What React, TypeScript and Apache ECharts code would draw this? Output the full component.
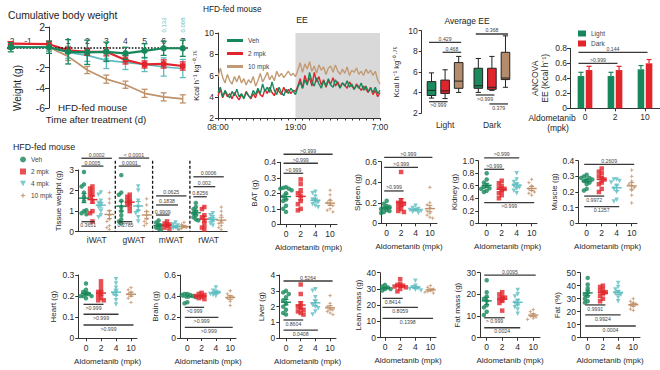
import React, { useEffect, useRef } from 'react';
import * as echarts from 'echarts';

const FONT = '"Liberation Sans", Arial, Helvetica, sans-serif';
const INK = '#333333';
const COLORS = ['#16875a', '#e1252b', '#5dbdc0', '#bf9169'];
const EE_COLORS = ['#16875a', '#e1252b', '#c29b74'];
const BOX_COLORS = ['#1b8a5d', '#e0262c', '#b48b6b'];
const SYMBOLS = [
  'circle',
  'rect',
  'path://M0,0L10,0L5,9Z',
  'path://M5,0L6.4,3.6L10,5L6.4,6.4L5,10L3.6,6.4L0,5L3.6,3.6Z',
];

// ---------------- data ----------------
const groupNames = ['Veh', '2 mpk', '4 mpk', '10 mpk'];
const doseLabels = ['0', '2', '4', '10'];

// Cumulative body weight (g)
const bwDays = [-2, 0, 1, 2, 3, 4, 5, 6, 7];
const bwVeh = [0.0, 0.0, -0.45, -0.5, -0.45, -0.6, -0.35, -0.1, -0.1];
const bwVehErr = [0.45, 0.6, 1.2, 1.2, 0.95, 0.6, 0.7, 0.7, 0.8];
const bw2 = [0.35, 0.3, -0.3, -0.45, -0.45, -1.25, -1.7, -1.65, -1.85];
const bw2Err = [0.2, 0.3, 0.3, 0.35, 0.4, 0.4, 0.35, 0.4, 0.4];
const bw4 = [0.1, 0.0, -0.5, -0.8, -1.3, -1.5, -1.7, -1.95, -2.1];
const bw4Err = [0.2, 0.4, 0.6, 0.6, 0.8, 0.7, 0.7, 0.9, 0.9];
const bw10 = [0.0, 0.0, -0.9, -2.25, -3.15, -3.7, -4.55, -4.9, -5.1];
const bw10Err = [0.2, 0.3, 0.4, 0.35, 0.4, 0.35, 0.4, 0.4, 0.4];
const dayLabels = ['-2', '-1', '1', '2', '3', '4', '5', '6', '7'];
const dayLabelDays = [-2, -1.1, 1, 2, 3, 4, 5, 6, 7];
const bwPDays = [6, 7];
const bwPTexts = ['0.132', '0.008'];

// EE time course (Kcal h-1 kg-0.75), every 20 min from 08:00 to 07:00
const eeVeh = [
  4.4, 4.9, 4.0, 4.6, 4.2, 3.9, 4.5, 4.1, 4.7, 4.0, 4.3, 3.8, 4.4, 4.1, 3.9, 4.6, 4.2, 4.8, 4.3, 5.2, 4.5, 4.9, 4.4, 5.4, 4.6, 4.2, 4.9, 4.4, 4.1, 4.7, 4.3, 4.8, 4.5, 4.2,
  4.9, 5.4, 4.8, 5.6, 5.1, 6.3, 5.4, 5.0, 5.8, 5.2, 4.8, 5.5, 5.0, 5.7, 5.1, 4.9, 5.6, 5.2, 4.8, 5.3, 5.0, 5.5, 4.9, 5.2, 4.7, 5.1, 4.8, 5.3, 4.6, 5.0, 4.5, 4.8, 4.4, 4.9, 4.3, 4.6,
];
const ee2 = [
  4.1, 4.7, 3.9, 4.5, 4.0, 4.3, 3.8, 4.4, 4.0, 3.7, 4.2, 3.9, 4.5, 4.1, 3.8, 4.3, 3.9, 4.6, 4.2, 4.0, 4.7, 4.3, 4.9, 4.4, 4.1, 4.8, 4.5, 4.2, 4.9, 4.4, 4.7, 4.3, 4.6, 4.5,
  5.0, 5.7, 4.8, 6.0, 5.3, 5.8, 5.0, 6.3, 5.4, 5.9, 5.1, 5.6, 4.9, 5.5, 5.2, 5.8, 5.0, 5.4, 4.9, 5.3, 5.1, 4.8, 5.4, 5.0, 4.7, 5.2, 4.9, 4.6, 5.0, 4.7, 4.4, 4.9, 4.2, 4.6, 4.0, 4.4,
];
const ee10 = [
  5.9, 6.7, 5.8, 5.3, 6.1, 5.5, 5.2, 5.9, 5.4, 6.0, 5.3, 5.7, 5.1, 5.6, 5.3, 5.9, 5.0, 5.5, 6.2, 5.4, 5.8, 6.3, 5.6, 6.0, 5.5, 6.4, 5.9, 6.2, 5.8, 6.1, 6.4, 6.0, 6.2, 5.9,
  6.5, 7.2, 6.3, 7.1, 6.6, 7.3, 6.4, 6.9, 6.2, 7.0, 6.5, 6.8, 6.1, 6.7, 6.9, 6.3, 7.0, 6.4, 6.1, 6.6, 6.2, 6.8, 6.0, 6.5, 6.3, 6.7, 6.1, 6.4, 6.0, 6.6, 6.2, 6.5, 6.0, 6.4, 5.6, 5.2,
];
const eeTickHours = [0, 11, 23];
const eeTickLabels = ['08:00', '19:00', '7:00'];
const eeDarkStart = 11;
const eeDarkEnd = 23;

// Average EE boxes: [min, Q1, median, Q3, max] for Light, Dark
const phaseLabels = ['Light', 'Dark'];
const eeBoxVeh = [[3.45, 3.7, 4.2, 5.05, 5.9], [4.0, 4.4, 4.65, 6.35, 7.3]];
const eeBox2 = [[3.4, 3.9, 4.15, 5.2, 6.2], [4.2, 4.3, 4.5, 6.35, 7.5]];
const eeBox10 = [[4.0, 4.4, 5.1, 6.9, 7.5], [4.5, 5.25, 5.4, 7.9, 9.5]];
// [phase, group1, group2, y, text, above/below]
const avgEeSig: [number, number, number, number, string, string][] = [
  [0, 0, 2, 8.87, '0.429', 'a'],
  [0, 1, 2, 7.9, '0.468', 'a'],
  [0, 0, 1, 3.1, '>0.999', 'b'],
  [1, 0, 2, 9.68, '0.368', 'a'],
  [1, 0, 1, 3.75, '>0.999', 'b'],
  [1, 1, 2, 2.88, '0.379', 'b'],
];

// ANCOVA EE
const ancovaDoses = ['0', '2', '10'];
const ancovaLight = [0.43, 0.43, 0.52];
const ancovaLightErr = [0.05, 0.05, 0.05];
const ancovaDark = [0.51, 0.51, 0.6];
const ancovaDarkErr = [0.05, 0.05, 0.05];
const ancovaSig: [number, number, number, string, string][] = [
  [0, 2, 0.747, '0.144', 'a'],
  [0, 1, 0.6, '>0.999', 'a'],
];

// Tissue weight (g): [iWAT, gWAT, mWAT, rWAT] x [Veh, 2, 4, 10 mpk]
const tissueNames = ['iWAT', 'gWAT', 'mWAT', 'rWAT'];
const iwat = [
  [2.9, 2.3, 2.2, 1.9, 1.7, 1.5, 1.0, 0.9, 0.85, 1.05],
  [2.2, 2.1, 2.0, 1.9, 1.8, 1.7, 1.5, 1.0, 0.9, 0.5],
  [1.9, 1.8, 1.5, 1.4, 1.3, 1.2, 1.0, 0.8, 0.7],
  [1.9, 1.6, 1.4, 1.0, 0.8, 0.6, 0.5, 0.3, 0.2, 0.1],
];
const gwat = [
  [2.75, 1.9, 1.8, 1.5, 1.2, 1.0, 0.8, 0.6, 0.5, 0.4],
  [1.8, 1.7, 1.6, 1.5, 1.4, 1.3, 1.2, 1.0],
  [2.2, 2.0, 1.5, 1.2, 1.0, 0.9, 0.7, 0.5],
  [1.6, 1.3, 1.0, 0.8, 0.6, 0.5, 0.4, 0.3],
];
const mwat = [
  [0.55, 0.45, 0.35, 0.3, 0.2, 0.15, 0.1],
  [0.5, 0.4, 0.35, 0.3, 0.2, 0.15],
  [0.45, 0.35, 0.3, 0.2, 0.15, 0.1],
  [0.45, 0.35, 0.25, 0.2, 0.15, 0.1],
];
const rwat = [
  [1.4, 1.2, 1.1, 1.0, 0.9, 0.8, 0.7, 0.6, 0.55],
  [1.2, 1.1, 0.8, 0.7, 0.5, 0.3, 0.2, 0.1],
  [0.9, 0.8, 0.7, 0.6, 0.5, 0.4, 0.3],
  [1.2, 1.0, 0.8, 0.5, 0.4, 0.3, 0.2, 0.1],
];
const tissueWeight = [iwat, gwat, mwat, rwat];
const tissueSeparators = [1, 2, 3];
// [tissue, group1, group2, y, text, above/below]
const tissueSig: [number, number, number, number, string, string][] = [
  [0, 0, 3, 3.57, '0.0002', 'a'],
  [0, 0, 2, 3.19, '0.0005', 'a'],
  [0, 0, 1, 0.486, '0.3651', 'b'],
  [1, 0, 3, 3.58, '< 0.0001', 'a'],
  [1, 0, 2, 3.19, '0.0001', 'a'],
  [1, 0, 1, 0.486, '0.2785', 'b'],
  [2, 0, 3, 1.74, '0.0625', 'a'],
  [2, 0, 2, 1.3, '0.1838', 'a'],
  [2, 0, 1, 0.81, '0.9909', 'a'],
  [3, 0, 3, 2.67, '0.0006', 'a'],
  [3, 0, 2, 2.19, '0.002', 'a'],
  [3, 0, 1, 1.7, '0.8256', 'a'],
];

// Organ / body composition dot plots: [Veh, 2, 4, 10 mpk]
const batWeight = [
  [0.24, 0.235, 0.23, 0.23, 0.22, 0.2, 0.18, 0.16, 0.15, 0.12, 0.1, 0.08],
  [0.29, 0.26, 0.22, 0.2, 0.18, 0.15, 0.13, 0.1, 0.09],
  [0.21, 0.2, 0.18, 0.16, 0.15, 0.14, 0.13, 0.12, 0.11],
  [0.22, 0.19, 0.16, 0.14, 0.13, 0.12, 0.1, 0.09, 0.08],
];
const spleenWeight = [
  [0.22, 0.19, 0.17, 0.16, 0.15, 0.14, 0.13, 0.12, 0.11, 0.1],
  [0.5, 0.22, 0.2, 0.19, 0.18, 0.16, 0.14, 0.12, 0.11],
  [0.17, 0.15, 0.14, 0.13, 0.13, 0.12, 0.11, 0.1],
  [0.35, 0.2, 0.18, 0.15, 0.12, 0.1, 0.08, 0.06, 0.05],
];
const kidneyWeight = [
  [0.8, 0.7, 0.65, 0.6, 0.58, 0.56, 0.55, 0.52, 0.5],
  [0.68, 0.64, 0.6, 0.57, 0.55, 0.52, 0.48, 0.45, 0.4],
  [0.8, 0.7, 0.66, 0.62, 0.6, 0.57, 0.55, 0.52, 0.48],
  [0.7, 0.65, 0.6, 0.55, 0.52, 0.5, 0.48, 0.45],
];
const muscleWeight = [
  [0.31, 0.3, 0.29, 0.29, 0.28, 0.28, 0.27, 0.26, 0.25, 0.22, 0.21],
  [0.35, 0.33, 0.32, 0.3, 0.29, 0.28, 0.26, 0.25, 0.22, 0.2],
  [0.28, 0.28, 0.27, 0.26, 0.24, 0.22, 0.2, 0.15, 0.14],
  [0.34, 0.3, 0.27, 0.25, 0.24, 0.23, 0.21, 0.18, 0.13],
];
const heartWeight = [
  [0.26, 0.23, 0.22, 0.21, 0.21, 0.2, 0.2, 0.2, 0.19],
  [0.27, 0.25, 0.23, 0.22, 0.21, 0.2, 0.19, 0.18, 0.18],
  [0.28, 0.26, 0.24, 0.22, 0.21, 0.2, 0.18, 0.16],
  [0.24, 0.23, 0.22, 0.21, 0.2, 0.19, 0.17],
];
const brainWeight = [
  [0.42, 0.42, 0.41, 0.41, 0.4, 0.4, 0.39, 0.34, 0.33],
  [0.43, 0.42, 0.41, 0.4, 0.39, 0.38, 0.37],
  [0.48, 0.45, 0.44, 0.43, 0.42, 0.41, 0.4],
  [0.45, 0.42, 0.4, 0.39, 0.38, 0.35, 0.31],
];
const liverWeight = [
  [3.0, 2.9, 2.8, 2.6, 2.4, 2.2, 2.0, 1.8, 1.6, 1.5],
  [3.4, 2.8, 2.2, 2.0, 1.9, 1.8, 1.7, 1.6, 1.5],
  [3.1, 3.0, 2.6, 2.3, 2.1, 2.0, 1.9, 1.7, 1.5],
  [2.7, 2.2, 2.0, 1.9, 1.8, 1.7, 1.6, 1.5],
];
const leanMass = [
  [32.5, 31.5, 31, 30.5, 30, 30, 29.5, 29],
  [36, 33, 32.5, 32, 31.5, 31, 30, 28.5],
  [35, 32, 31, 30.5, 30, 29.5, 29],
  [32, 31, 30, 29, 28.5, 28, 27.5],
];
const fatMass = [
  [26.5, 21, 19, 18, 17, 15, 14, 12, 10.5],
  [21, 20, 19, 18.5, 18, 17, 16, 12.5],
  [22, 20, 19, 17, 16, 15, 14, 13, 11],
  [13, 12, 11, 10, 9.5, 9, 8.5],
];
const fatPercent = [
  [46, 41, 38, 35, 33, 32, 30, 28, 27],
  [40, 39, 37, 36, 35, 34, 32, 30, 28],
  [42, 39, 37, 35, 34, 33, 31, 28],
  [30, 28, 27, 26, 25, 24, 22, 21],
];
type Sig = [number, number, number, string, string]; // group1, group2, y, text, a/b
const batSig: Sig[] = [[0, 1, 0.329, '>0.999', 'a'], [0, 2, 0.394, '>0.999', 'a'], [0, 3, 0.452, '>0.999', 'a']];
const spleenSig: Sig[] = [[0, 1, 0.315, '>0.999', 'a'], [0, 2, 0.545, '>0.999', 'a'], [0, 3, 0.643, '>0.999', 'a']];
const kidneySig: Sig[] = [[0, 1, 0.863, '>0.999', 'a'], [0, 2, 1.045, '>0.999', 'a'], [0, 3, 0.33, '>0.999', 'b']];
const muscleSig: Sig[] = [[0, 3, 0.377, '0.2609', 'a'], [0, 1, 0.174, '0.9972', 'b'], [0, 2, 0.106, '0.1257', 'b']];
const heartSig: Sig[] = [[0, 1, 0.161, '>0.999', 'b'], [0, 2, 0.114, '>0.999', 'b'], [0, 3, 0.063, '>0.999', 'b']];
const brainSig: Sig[] = [[0, 1, 0.292, '>0.999', 'b'], [0, 2, 0.197, '>0.999', 'b'], [0, 3, 0.102, '>0.999', 'b']];
const liverSig: Sig[] = [[0, 3, 3.62, '0.5264', 'a'], [0, 1, 1.156, '0.8604', 'b'], [0, 2, 0.52, '0.0408', 'b']];
const leanSig: Sig[] = [[0, 1, 24.2, '0.8414', 'b'], [0, 2, 18.7, '0.8059', 'b'], [0, 3, 11.9, '0.1398', 'b']];
const fatMassSig: Sig[] = [[0, 3, 28.9, '0.0095', 'a'], [0, 1, 9.2, '> 0.999', 'b'], [0, 2, 4.6, '0.0024', 'b']];
const fatPctSig: Sig[] = [[0, 1, 25.2, '0.9991', 'b'], [0, 2, 17.5, '0.9924', 'b'], [0, 3, 9.0, '0.0004', 'b']];

// ---------------- helpers ----------------
function mean(a: number[]) {
  return a.reduce((s, v) => s + v, 0) / a.length;
}
function sem(a: number[]) {
  const m = mean(a);
  const v = a.reduce((s, x) => s + (x - m) * (x - m), 0) / (a.length - 1);
  return Math.sqrt(v / a.length);
}
// deterministic beeswarm offsets (layout only)
function swarm(vals: number[], pxPerValue: number, pxPerUnit: number, slotPx: number) {
  const placed: { v: number; s: number }[] = [];
  const order = [0, -1, 1, -2, 2, -3, 3, -4, 4];
  return vals.map((v) => {
    let slot = 0;
    for (const s of order) {
      if (placed.every((p) => p.s !== s || Math.abs(p.v - v) * pxPerValue >= 3.6)) {
        slot = s;
        break;
      }
    }
    placed.push({ v, s: slot });
    return (slot * slotPx) / pxPerUnit;
  });
}

const axLine = (show = true) => ({ show, onZero: false, lineStyle: { color: INK, width: 1 } });
const axTick = (len = 3, extra: any = {}) => ({ show: true, length: len, lineStyle: { color: INK, width: 1 }, ...extra });
const axLab = (fs: number, extra: any = {}) => ({ fontSize: fs, color: '#2b2b2b', fontFamily: FONT, ...extra });
const nameStyle = (fs: number, extra: any = {}) => ({ fontSize: fs, color: '#2b2b2b', fontFamily: FONT, ...extra });

type SigItem = { x1: number; x2: number; y: number; text: string; above: boolean };

function sigSeries(g: number, items: SigItem[]) {
  return {
    type: 'custom',
    xAxisIndex: g,
    yAxisIndex: g,
    silent: true,
    z: 5,
    data: items.map((it) => [it.x1, it.y]),
    renderItem: (params: any, api: any) => {
      const it = items[params.dataIndex];
      const a = api.coord([it.x1, it.y]);
      const b = api.coord([it.x2, it.y]);
      const x1 = a[0] - 2.5;
      const x2 = b[0] + 2.5;
      return {
        type: 'group',
        children: [
          { type: 'line', shape: { x1, y1: a[1], x2, y2: a[1] }, style: { stroke: '#3a3a3a', lineWidth: 1.3 } },
          {
            type: 'text',
            x: (x1 + x2) / 2,
            y: it.above ? a[1] - 1 : a[1] + 1.2,
            style: {
              text: it.text,
              fontSize: 5.2,
              fontFamily: FONT,
              fill: '#444',
              align: 'center',
              verticalAlign: it.above ? 'bottom' : 'top',
            },
          },
        ],
      };
    },
  };
}

function meanSeries(g: number, rows: number[][]) {
  return {
    type: 'custom',
    xAxisIndex: g,
    yAxisIndex: g,
    silent: true,
    z: 4,
    data: rows,
    renderItem: (params: any, api: any) => {
      const x = api.value(0);
      const m = api.value(1);
      const s = api.value(2);
      const col = COLORS[api.value(3)];
      const c = api.coord([x, m]);
      const t = api.coord([x, m + s]);
      const b = api.coord([x, m - s]);
      const st = { stroke: col, lineWidth: 1 };
      return {
        type: 'group',
        children: [
          { type: 'line', shape: { x1: c[0] - 5, y1: c[1], x2: c[0] + 5, y2: c[1] }, style: { stroke: col, lineWidth: 1.4 } },
          { type: 'line', shape: { x1: c[0], y1: t[1], x2: c[0], y2: b[1] }, style: st },
          { type: 'line', shape: { x1: c[0] - 2.5, y1: t[1], x2: c[0] + 2.5, y2: t[1] }, style: st },
          { type: 'line', shape: { x1: c[0] - 2.5, y1: b[1], x2: c[0] + 2.5, y2: b[1] }, style: st },
        ],
      };
    },
  };
}

function buildOption() {
  const opt: any = {
    animation: false,
    backgroundColor: '#ffffff',
    textStyle: { fontFamily: FONT },
    grid: [],
    xAxis: [],
    yAxis: [],
    series: [],
    legend: [],
    graphic: [],
  };
  const addGrid = (rect: any, x: any, y: any) => {
    const i = opt.grid.length;
    opt.grid.push({ ...rect, containLabel: false, outerBoundsMode: 'none', show: false });
    opt.xAxis.push({ splitLine: { show: false }, ...x, gridIndex: i });
    opt.yAxis.push({ splitLine: { show: false }, ...y, gridIndex: i });
    return i;
  };

  // ---------- Cumulative body weight ----------
  // y axis sits at day 0 (x = 49 px), 42 px right of the grid's left edge
  const g1 = addGrid(
    { left: 7, top: 27, width: 181.5, height: 81 },
    { type: 'value', min: -2.2, max: 7.3, show: false },
    {
      type: 'value',
      min: -6,
      max: 2,
      interval: 2,
      offset: -42,
      axisLine: axLine(),
      axisTick: axTick(4),
      axisLabel: axLab(10.5, { margin: 4, formatter: (v: number) => (v === 0 ? '' : String(v)) }),
    }
  );
  opt.series.push({
    type: 'custom',
    xAxisIndex: g1,
    yAxisIndex: g1,
    silent: true,
    z: 1,
    data: dayLabelDays.map((d) => [d, 0.65]),
    renderItem: (params: any, api: any) => {
      const p = api.coord([api.value(0), api.value(1)]);
      return {
        type: 'text',
        x: p[0],
        y: p[1],
        style: { text: dayLabels[params.dataIndex], fontSize: 8.5, fill: '#333', fontFamily: FONT, align: 'center', verticalAlign: 'middle' },
      };
    },
  });
  opt.series.push({
    type: 'custom',
    xAxisIndex: g1,
    yAxisIndex: g1,
    silent: true,
    z: 1,
    data: bwPDays.map((d) => [d, 2.2]),
    renderItem: (params: any, api: any) => {
      const p = api.coord([api.value(0), api.value(1)]);
      return {
        type: 'text',
        x: p[0],
        y: p[1],
        rotation: Math.PI / 2,
        style: { text: bwPTexts[params.dataIndex], fontSize: 6, fill: COLORS[2], fontFamily: FONT, align: 'center', verticalAlign: 'middle' },
      };
    },
  });
  const bwDefs = [
    { vals: bw10, err: bw10Err, c: 3, sym: 'none', size: 0, w: 1.7 },
    { vals: bw4, err: bw4Err, c: 2, sym: SYMBOLS[2], size: 5.5, w: 1.7 },
    { vals: bw2, err: bw2Err, c: 1, sym: 'rect', size: 5.5, w: 2.2 },
    { vals: bwVeh, err: bwVehErr, c: 0, sym: 'circle', size: 6.5, w: 2.2 },
  ];
  bwDefs.forEach((d, k) => {
    const col = COLORS[d.c];
    opt.series.push({
      type: 'custom',
      xAxisIndex: g1,
      yAxisIndex: g1,
      silent: true,
      z: 2 + k,
      data: bwDays.map((day, i) => [day, d.vals[i], d.err[i]]),
      renderItem: (params: any, api: any) => {
        const x = api.value(0);
        const y = api.value(1);
        const e = api.value(2);
        const t = api.coord([x, y + e]);
        const b = api.coord([x, y - e]);
        const st = { stroke: col, lineWidth: 1.3 };
        return {
          type: 'group',
          children: [
            { type: 'line', shape: { x1: t[0], y1: t[1], x2: b[0], y2: b[1] }, style: st },
            { type: 'line', shape: { x1: t[0] - 3, y1: t[1], x2: t[0] + 3, y2: t[1] }, style: st },
            { type: 'line', shape: { x1: b[0] - 3, y1: b[1], x2: b[0] + 3, y2: b[1] }, style: st },
          ],
        };
      },
    });
    const s: any = {
      type: 'line',
      name: 'bw-' + groupNames[d.c],
      xAxisIndex: g1,
      yAxisIndex: g1,
      data: bwDays.map((day, i) => [day, d.vals[i]]),
      symbol: d.sym,
      symbolSize: d.size,
      showSymbol: d.sym !== 'none',
      lineStyle: { color: col, width: d.w },
      itemStyle: { color: col },
      silent: true,
      z: 2 + k,
    };
    if (d.c === 0) {
      s.markLine = {
        silent: true,
        symbol: 'none',
        label: { show: false },
        lineStyle: { type: 'dotted', color: '#111', width: 1.6 },
        data: [{ yAxis: 0 }],
      };
    }
    opt.series.push(s);
  });

  // ---------- EE time course ----------
  const g2 = addGrid(
    { left: 218, top: 33, width: 162, height: 85 },
    {
      type: 'value',
      min: 0,
      max: 23,
      interval: 1,
      axisLine: axLine(),
      axisTick: axTick(2.5),
      axisLabel: axLab(8.5, {
        margin: 4,
        customValues: eeTickHours,
        formatter: (v: number) => {
          const i = eeTickHours.indexOf(v);
          return i >= 0 ? eeTickLabels[i] : '';
        },
      }),
    },
    {
      type: 'value',
      min: 2,
      max: 10,
      interval: 2,
      axisLine: axLine(),
      axisTick: axTick(3),
      axisLabel: axLab(8.5, { margin: 4 }),
      name: 'Kcal h⁻¹ kg⁻⁰·⁷⁵',
      nameLocation: 'middle',
      nameRotate: 90,
      nameGap: 16,
      nameTextStyle: nameStyle(7.5),
    }
  );
  opt.series.push({
    type: 'line',
    name: 'shade',
    xAxisIndex: g2,
    yAxisIndex: g2,
    data: [],
    z: 0,
    silent: true,
    markArea: {
      silent: true,
      itemStyle: { color: '#d9d9d9' },
      data: [[{ xAxis: eeDarkStart }, { xAxis: eeDarkEnd }]],
    },
  });
  const eeTimes = eeVeh.map((_, i) => i / 3);
  [
    { name: 'EE 10 mpk', vals: ee10, c: 2 },
    { name: 'EE 2 mpk', vals: ee2, c: 1 },
    { name: 'EE Veh', vals: eeVeh, c: 0 },
  ].forEach((d, k) => {
    opt.series.push({
      type: 'line',
      name: d.name,
      xAxisIndex: g2,
      yAxisIndex: g2,
      data: eeTimes.map((t, i) => [t, d.vals[i]]),
      symbol: 'none',
      lineStyle: { color: EE_COLORS[d.c], width: 1.4 },
      itemStyle: { color: EE_COLORS[d.c] },
      silent: true,
      z: 2 + k,
    });
  });

  // ---------- Average EE boxes ----------
  const boxOff = 0.29;
  const g3 = addGrid(
    { left: 421.7, top: 30.7, width: 93.6, height: 82.3 },
    {
      type: 'value',
      min: -0.5,
      max: 1.5,
      axisLine: axLine(false),
      axisTick: { show: false },
      axisLabel: axLab(8.5, { margin: 7, customValues: [0, 1], formatter: (v: number) => phaseLabels[Math.round(v)] }),
    },
    {
      type: 'value',
      min: 2,
      max: 10,
      interval: 2,
      axisLine: axLine(),
      axisTick: axTick(3),
      axisLabel: axLab(8.5, { margin: 4 }),
      name: 'Kcal h⁻¹ kg⁻⁰·⁷⁵',
      nameLocation: 'middle',
      nameRotate: 90,
      nameGap: 21,
      nameTextStyle: nameStyle(7.5),
    }
  );
  const boxRows: number[][] = [];
  [eeBoxVeh, eeBox2, eeBox10].forEach((grp, g) => {
    grp.forEach((five, p) => boxRows.push([p + (g - 1) * boxOff, ...five, g]));
  });
  opt.series.push({
    type: 'custom',
    xAxisIndex: g3,
    yAxisIndex: g3,
    silent: true,
    z: 3,
    data: boxRows,
    renderItem: (params: any, api: any) => {
      const x = api.value(0);
      const lo = api.coord([x, api.value(1)]);
      const q1 = api.coord([x, api.value(2)]);
      const md = api.coord([x, api.value(3)]);
      const q3 = api.coord([x, api.value(4)]);
      const hi = api.coord([x, api.value(5)]);
      const col = BOX_COLORS[api.value(6)];
      const hw = 4.3;
      const cw = 2.6;
      const st = { stroke: '#222', lineWidth: 1 };
      const cx = lo[0];
      return {
        type: 'group',
        children: [
          { type: 'line', shape: { x1: cx, y1: hi[1], x2: cx, y2: q3[1] }, style: st },
          { type: 'line', shape: { x1: cx, y1: q1[1], x2: cx, y2: lo[1] }, style: st },
          { type: 'line', shape: { x1: cx - cw, y1: hi[1], x2: cx + cw, y2: hi[1] }, style: st },
          { type: 'line', shape: { x1: cx - cw, y1: lo[1], x2: cx + cw, y2: lo[1] }, style: st },
          { type: 'rect', shape: { x: cx - hw, y: q3[1], width: 2 * hw, height: q1[1] - q3[1] }, style: { fill: col, stroke: '#222', lineWidth: 1 } },
          { type: 'line', shape: { x1: cx - hw, y1: md[1], x2: cx + hw, y2: md[1] }, style: st },
        ],
      };
    },
  });
  opt.series.push(
    sigSeries(
      g3,
      avgEeSig.map((s) => ({ x1: s[0] + (s[1] - 1) * boxOff, x2: s[0] + (s[2] - 1) * boxOff, y: s[3], text: s[4], above: s[5] === 'a' }))
    )
  );

  // ---------- ANCOVA bars ----------
  const g4 = addGrid(
    { left: 570, top: 48.3, width: 90, height: 60 },
    {
      type: 'value',
      min: -0.5,
      max: 2.5,
      axisLine: axLine(),
      axisTick: axTick(3, { customValues: [0, 1, 2] }),
      axisLabel: axLab(8.5, { margin: 4, customValues: [0, 1, 2], formatter: (v: number) => ancovaDoses[Math.round(v)] }),
    },
    {
      type: 'value',
      min: 0,
      max: 0.8,
      interval: 0.2,
      axisLine: axLine(),
      axisTick: axTick(3),
      axisLabel: axLab(8.5, { margin: 3 }),
      name: 'ANCOVA\nEE (Kcal h⁻¹)',
      nameLocation: 'middle',
      nameRotate: 90,
      nameGap: 20,
      nameTextStyle: nameStyle(8.5, { lineHeight: 10 }),
    }
  );
  [
    { name: 'Light', vals: ancovaLight, err: ancovaLightErr, col: COLORS[0], off: -0.135 },
    { name: 'Dark', vals: ancovaDark, err: ancovaDarkErr, col: COLORS[1], off: 0.135 },
  ].forEach((d) => {
    opt.series.push({
      type: 'custom',
      name: d.name,
      xAxisIndex: g4,
      yAxisIndex: g4,
      silent: true,
      z: 3,
      itemStyle: { color: d.col },
      data: d.vals.map((v, i) => [i + d.off, v, d.err[i]]),
      renderItem: (params: any, api: any) => {
        const x = api.value(0);
        const v = api.value(1);
        const e = api.value(2);
        const base = api.coord([x, 0]);
        const top = api.coord([x, v]);
        const et = api.coord([x, v + e]);
        const st = { stroke: d.col, lineWidth: 1.2 };
        return {
          type: 'group',
          children: [
            { type: 'rect', shape: { x: base[0] - 3.3, y: top[1], width: 6.6, height: base[1] - top[1] }, style: { fill: d.col } },
            { type: 'line', shape: { x1: base[0], y1: top[1], x2: base[0], y2: et[1] }, style: st },
            { type: 'line', shape: { x1: base[0] - 2.5, y1: et[1], x2: base[0] + 2.5, y2: et[1] }, style: st },
          ],
        };
      },
    });
  });
  opt.series.push(
    sigSeries(
      g4,
      ancovaSig.map((s) => ({ x1: s[0] - 0.135, x2: s[1], y: s[2], text: s[3], above: s[4] === 'a' }))
    )
  );

  // ---------- Tissue weight ----------
  const tissuePxPerUnit = 37.3;
  const tissueTop = 170;
  const tissueZero = 231.7;
  const tissueGroupX = (cat: number, g: number) => cat + 0.16 + g * 0.227;
  const g5 = addGrid(
    { left: 78, top: tissueTop, width: 4 * tissuePxPerUnit, height: tissueZero - tissueTop },
    {
      type: 'value',
      min: 0,
      max: 4,
      axisLine: axLine(),
      axisTick: { show: false },
      axisLabel: axLab(8.5, { margin: 4, customValues: [0.5, 1.5, 2.5, 3.5], formatter: (v: number) => tissueNames[Math.floor(v)] }),
    },
    {
      type: 'value',
      min: 0,
      max: 3,
      interval: 1,
      axisLine: axLine(),
      axisTick: axTick(3),
      axisLabel: axLab(8.5, { margin: 4 }),
      name: 'Tissue weight (g)',
      nameLocation: 'middle',
      nameRotate: 90,
      nameGap: 16,
      nameTextStyle: nameStyle(8),
    }
  );
  const tissuePxPerValue = (tissueZero - tissueTop) / 3;
  groupNames.forEach((name, g) => {
    const pts: number[][] = [];
    tissueWeight.forEach((cat, c) => {
      const vals = cat[g];
      const off = swarm(vals, tissuePxPerValue, tissuePxPerUnit, 2.4);
      vals.forEach((v, i) => pts.push([tissueGroupX(c, g) + off[i], v]));
    });
    opt.series.push({
      type: 'scatter',
      name,
      xAxisIndex: g5,
      yAxisIndex: g5,
      data: pts,
      symbol: SYMBOLS[g],
      symbolSize: 4.5,
      itemStyle: { color: COLORS[g] },
      silent: true,
      z: 2,
    });
  });
  const tissueMeans: number[][] = [];
  tissueWeight.forEach((cat, c) => cat.forEach((vals, g) => tissueMeans.push([tissueGroupX(c, g), mean(vals), sem(vals), g])));
  opt.series.push(meanSeries(g5, tissueMeans));
  opt.series.push({
    type: 'custom',
    xAxisIndex: g5,
    yAxisIndex: g5,
    silent: true,
    z: 1,
    data: tissueSeparators.map((x) => [x, 0]),
    renderItem: (params: any, api: any) => {
      const x = api.value(0);
      const a = api.coord([x, 3.45]);
      const b = api.coord([x, 0]);
      return { type: 'line', shape: { x1: a[0], y1: a[1], x2: b[0], y2: b[1] }, style: { stroke: '#111', lineWidth: 1.3, lineDash: [3, 2] } };
    },
  });
  opt.series.push(
    sigSeries(
      g5,
      tissueSig.map((s) => ({ x1: tissueGroupX(s[0], s[1]), x2: tissueGroupX(s[0], s[2]), y: s[3], text: s[4], above: s[5] === 'a' }))
    )
  );

  // ---------- dot panels ----------
  const oneDec = (v: number) => (v === 0 ? '0' : v.toFixed(1));
  const dotPanels: any[] = [
    { ax: 280, c0: 286, sp: 14.7, right: 337, top: 162.3, zero: 224.3, max: 0.4, interval: 0.1, yName: 'BAT (g)', nameGap: 22, data: batWeight, sigs: batSig },
    { ax: 381, c0: 386.7, sp: 14.4, right: 437, top: 161.7, zero: 223.3, max: 0.6, interval: 0.2, yName: 'Spleen (g)', nameGap: 18, data: spleenWeight, sigs: spleenSig },
    { ax: 478.3, c0: 486.7, sp: 15, right: 537, top: 160.7, zero: 223.3, max: 1.0, interval: 0.2, yName: 'Kidney (g)', nameGap: 18, data: kidneyWeight, sigs: kidneySig, fmt: oneDec },
    { ax: 578.3, c0: 586.7, sp: 15, right: 637, top: 160.7, zero: 223.3, max: 0.4, interval: 0.1, yName: 'Muscle (g)', nameGap: 20, data: muscleWeight, sigs: muscleSig },
    { ax: 78.3, c0: 86, sp: 15, right: 137, top: 275, zero: 338.3, max: 0.3, interval: 0.1, yName: 'Heart (g)', nameGap: 21, data: heartWeight, sigs: heartSig },
    { ax: 180, c0: 187.3, sp: 14.3, right: 236, top: 275, zero: 338, max: 0.6, interval: 0.2, yName: 'Brain (g)', nameGap: 21, data: brainWeight, sigs: brainSig },
    { ax: 279.3, c0: 286, sp: 14.7, right: 336, top: 275, zero: 338.3, max: 4, interval: 1, yName: 'Liver (g)', nameGap: 14, data: liverWeight, sigs: liverSig },
    { ax: 380, c0: 385, sp: 15.2, right: 436, top: 272.7, zero: 337.7, max: 40, interval: 10, yName: 'Lean mass (g)', nameGap: 16, data: leanMass, sigs: leanSig },
    { ax: 480, c0: 486.7, sp: 15.5, right: 540, top: 272.7, zero: 337.7, max: 30, interval: 10, yName: 'Fat mass (g)', nameGap: 19, data: fatMass, sigs: fatMassSig },
    { ax: 580, c0: 587.7, sp: 15.2, right: 640, top: 272.7, zero: 337.7, max: 50, interval: 10, yName: 'Fat (%)', nameGap: 19, data: fatPercent, sigs: fatPctSig },
  ];
  dotPanels.forEach((p, pi) => {
    const g = addGrid(
      { left: p.ax, top: p.top, width: p.right - p.ax, height: p.zero - p.top },
      {
        type: 'value',
        min: (p.ax - p.c0) / p.sp,
        max: (p.right - p.c0) / p.sp,
        axisLine: axLine(),
        axisTick: axTick(3, { customValues: [0, 1, 2, 3] }),
        axisLabel: axLab(8.5, { margin: 5, customValues: [0, 1, 2, 3], formatter: (v: number) => doseLabels[Math.round(v)] }),
        name: 'Aldometanib (mpk)',
        nameLocation: 'middle',
        nameGap: 19,
        nameTextStyle: nameStyle(8),
      },
      {
        type: 'value',
        min: 0,
        max: p.max,
        interval: p.interval,
        axisLine: axLine(),
        axisTick: axTick(3),
        axisLabel: axLab(8.5, p.fmt ? { margin: 4, formatter: p.fmt } : { margin: 4 }),
        name: p.yName,
        nameLocation: 'middle',
        nameRotate: 90,
        nameGap: p.nameGap,
        nameTextStyle: nameStyle(8),
      }
    );
    const pxPerValue = (p.zero - p.top) / p.max;
    p.data.forEach((vals: number[], k: number) => {
      const off = swarm(vals, pxPerValue, p.sp, 2.8);
      opt.series.push({
        type: 'scatter',
        name: 'panel' + pi + '-' + k,
        xAxisIndex: g,
        yAxisIndex: g,
        data: vals.map((v, i) => [k + off[i], v]),
        symbol: SYMBOLS[k],
        symbolSize: 4.5,
        itemStyle: { color: COLORS[k] },
        silent: true,
        z: 2,
      });
    });
    opt.series.push(meanSeries(g, p.data.map((vals: number[], k: number) => [k, mean(vals), sem(vals), k])));
    opt.series.push(sigSeries(g, p.sigs.map((s: Sig) => ({ x1: s[0], x2: s[1], y: s[2], text: s[3], above: s[4] === 'a' }))));
  });

  // ---------- legends ----------
  opt.legend = [
    {
      data: groupNames,
      orient: 'vertical',
      left: 15,
      top: 151,
      itemWidth: 6,
      itemHeight: 6,
      itemGap: 5,
      selectedMode: false,
      textStyle: { fontSize: 6.5, color: '#444', fontFamily: FONT },
    },
    {
      data: ['EE Veh', 'EE 2 mpk', 'EE 10 mpk'],
      formatter: (n: string) => n.replace('EE ', ''),
      orient: 'vertical',
      left: 222,
      top: 32,
      icon: 'rect',
      itemWidth: 16,
      itemHeight: 3,
      itemGap: 6,
      selectedMode: false,
      textStyle: { fontSize: 6.5, color: '#444', fontFamily: FONT },
    },
    {
      data: ['Light', 'Dark'],
      orient: 'vertical',
      left: 573,
      top: 25,
      icon: 'rect',
      itemWidth: 8,
      itemHeight: 6,
      itemGap: 3,
      selectedMode: false,
      textStyle: { fontSize: 6.5, color: '#444', fontFamily: FONT },
    },
  ];

  // ---------- free texts ----------
  const txt = (text: string, x: number, y: number, fs: number, extra: any = {}, styleExtra: any = {}) => ({
    type: 'text',
    x,
    y,
    silent: true,
    ...extra,
    style: { text, fontSize: fs, fill: '#222', fontFamily: FONT, verticalAlign: 'middle', ...styleExtra },
  });
  opt.graphic = [
    txt('Cumulative body weight', 8, 15, 10.3),
    txt('HFD-fed mouse', 58, 107, 9.8),
    txt('Time after treatment (d)', 96, 119, 9.6, {}, { align: 'center' }),
    txt('Weight (g)', 17, 88, 10, { rotation: Math.PI / 2 }, { align: 'center' }),
    txt('HFD-fed mouse', 203, 8.5, 8.3),
    txt('EE', 302, 20, 8.7, {}, { align: 'center' }),
    txt('Average EE', 467, 20.5, 8.5, {}, { align: 'center' }),
    txt('Aldometanib', 552, 118, 8.5, {}, { align: 'center' }),
    txt('(mpk)', 558, 128, 8.5, {}, { align: 'center' }),
    txt('HFD-fed mouse', 13, 147, 8.8),
  ];

  return opt;
}

export default function App() {
  const ref = useRef<HTMLDivElement>(null);
  useEffect(() => {
    if (!ref.current) return;
    const chart = echarts.init(ref.current, undefined, { renderer: 'svg' });
    chart.setOption(buildOption());
    return () => chart.dispose();
  }, []);
  return <div ref={ref} style={{ position: 'absolute', left: 0, top: 0, width: 660, height: 370, background: '#fff' }} />;
}
